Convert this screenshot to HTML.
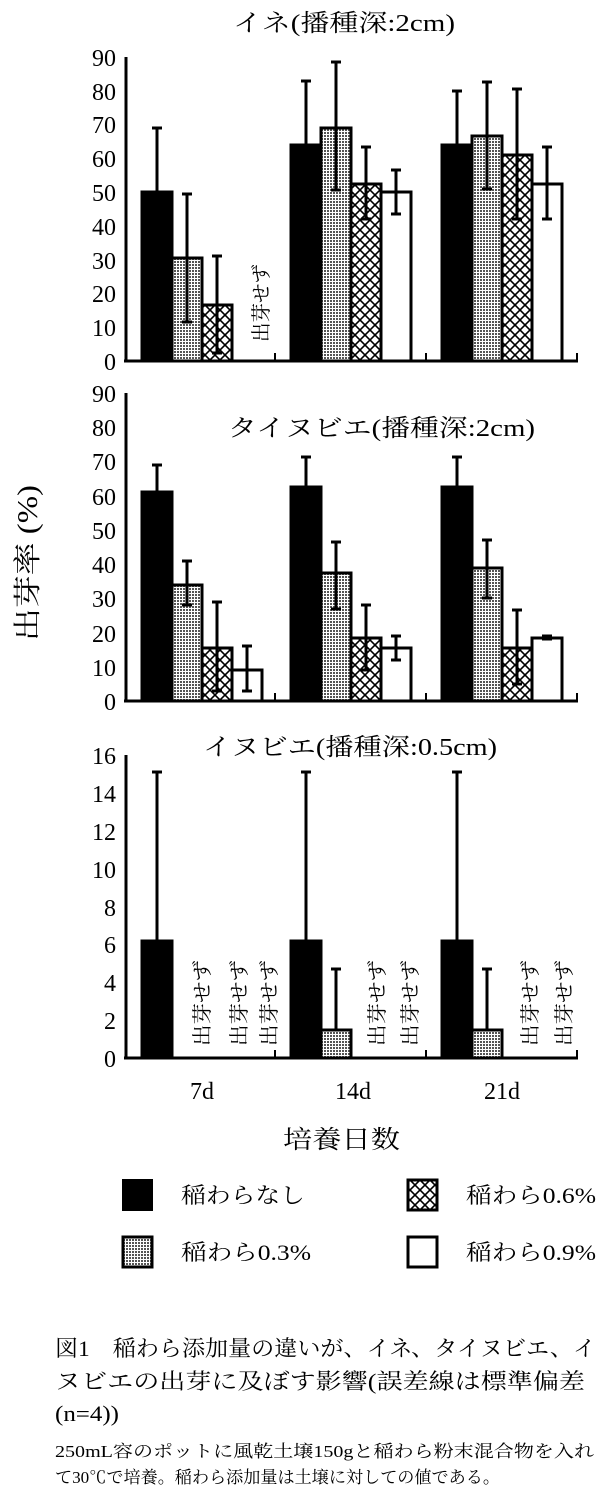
<!DOCTYPE html>
<html><head><meta charset="utf-8"><style>
html,body{margin:0;padding:0;background:#fff}
svg{display:block}
text{font-family:"Liberation Serif","Noto Serif CJK SC",serif;fill:#000}
.t{font-size:24px}
.j{font-family:"Liberation Serif","Noto Serif CJK SC","Noto Sans CJK JP",serif}
</style></head><body>
<svg width="609" height="1496" viewBox="0 0 609 1496" xmlns="http://www.w3.org/2000/svg">
<defs>
<pattern id="dot" width="3" height="3" patternUnits="userSpaceOnUse"><rect width="3" height="3" fill="#fff"/><rect width="2" height="2" fill="#555"/></pattern>
<pattern id="hx" width="10" height="10" patternUnits="userSpaceOnUse"><rect width="10" height="10" fill="#fff"/><path d="M0 0L10 10M10 0L0 10" stroke="#000" stroke-width="1.6"/></pattern>
</defs>
<g stroke="#000" stroke-width="3">
<line x1="126" y1="57" x2="126" y2="362"/><line x1="124" y1="361" x2="578" y2="361"/>
<line x1="275" y1="361" x2="275" y2="353" stroke-width="2"/><line x1="426" y1="361" x2="426" y2="353" stroke-width="2"/><line x1="577" y1="361" x2="577" y2="353" stroke-width="2"/>
<rect x="142" y="192" width="30" height="169" fill="#000"/>
<rect x="172" y="258" width="30" height="103" fill="url(#dot)"/>
<rect x="202" y="305" width="30" height="56" fill="url(#hx)"/>
<rect x="291" y="145" width="30" height="216" fill="#000"/>
<rect x="321" y="128" width="30" height="233" fill="url(#dot)"/>
<rect x="351" y="184" width="30" height="177" fill="url(#hx)"/>
<rect x="381" y="192" width="30" height="169" fill="#fff"/>
<rect x="442" y="145" width="30" height="216" fill="#000"/>
<rect x="472" y="136" width="30" height="225" fill="url(#dot)"/>
<rect x="502" y="155" width="30" height="206" fill="url(#hx)"/>
<rect x="532" y="184" width="30" height="177" fill="#fff"/>
<line x1="126" y1="393" x2="126" y2="702"/><line x1="124" y1="701" x2="578" y2="701"/>
<line x1="275" y1="701" x2="275" y2="693" stroke-width="2"/><line x1="426" y1="701" x2="426" y2="693" stroke-width="2"/><line x1="577" y1="701" x2="577" y2="693" stroke-width="2"/>
<rect x="142" y="492" width="30" height="209" fill="#000"/>
<rect x="172" y="585" width="30" height="116" fill="url(#dot)"/>
<rect x="202" y="648" width="30" height="53" fill="url(#hx)"/>
<rect x="232" y="670" width="30" height="31" fill="#fff"/>
<rect x="291" y="487" width="30" height="214" fill="#000"/>
<rect x="321" y="573" width="30" height="128" fill="url(#dot)"/>
<rect x="351" y="638" width="30" height="63" fill="url(#hx)"/>
<rect x="381" y="648" width="30" height="53" fill="#fff"/>
<rect x="442" y="487" width="30" height="214" fill="#000"/>
<rect x="472" y="568" width="30" height="133" fill="url(#dot)"/>
<rect x="502" y="648" width="30" height="53" fill="url(#hx)"/>
<rect x="532" y="638" width="30" height="63" fill="#fff"/>
<line x1="126" y1="755" x2="126" y2="1059"/><line x1="124" y1="1058" x2="578" y2="1058"/>
<line x1="275" y1="1058" x2="275" y2="1050" stroke-width="2"/><line x1="426" y1="1058" x2="426" y2="1050" stroke-width="2"/><line x1="577" y1="1058" x2="577" y2="1050" stroke-width="2"/>
<rect x="142" y="941" width="30" height="117" fill="#000"/>
<rect x="291" y="941" width="30" height="117" fill="#000"/>
<rect x="321" y="1030" width="30" height="28" fill="url(#dot)"/>
<rect x="442" y="941" width="30" height="117" fill="#000"/>
<rect x="472" y="1030" width="30" height="28" fill="url(#dot)"/>
</g>
<g stroke="#000" stroke-width="3" fill="none">
<path d="M157 192V128M152 128h10"/>
<path d="M187 322V194M182 322h10M182 194h10"/>
<path d="M217 353V256M212 353h10M212 256h10"/>
<path d="M306 145V81M301 81h10"/>
<path d="M336 190V62M331 190h10M331 62h10"/>
<path d="M366 219V147M361 219h10M361 147h10"/>
<path d="M396 214V170M391 214h10M391 170h10"/>
<path d="M457 145V91M452 91h10"/>
<path d="M487 189V82M482 189h10M482 82h10"/>
<path d="M517 219V89M512 219h10M512 89h10"/>
<path d="M547 219V147M542 219h10M542 147h10"/>
<path d="M157 492V465M152 465h10"/>
<path d="M187 605V561M182 605h10M182 561h10"/>
<path d="M217 691V602M212 691h10M212 602h10"/>
<path d="M247 691V646M242 691h10M242 646h10"/>
<path d="M306 487V457M301 457h10"/>
<path d="M336 609V542M331 609h10M331 542h10"/>
<path d="M366 670V605M361 670h10M361 605h10"/>
<path d="M396 660V636M391 660h10M391 636h10"/>
<path d="M457 487V457M452 457h10"/>
<path d="M487 598V540M482 598h10M482 540h10"/>
<path d="M517 684V610M512 684h10M512 610h10"/>
<path d="M547 639V636M542 639h10M542 636h10"/>
<path d="M157 941V772M152 772h10"/>
<path d="M306 941V772M301 772h10"/>
<path d="M457 941V772M452 772h10"/>
<path d="M336 1030V969M331 969h10"/>
<path d="M487 1030V969M482 969h10"/>
</g>
<g class="t" text-anchor="end">
<text x="116" y="66">90</text><text x="116" y="100">80</text><text x="116" y="133">70</text><text x="116" y="167">60</text><text x="116" y="201">50</text><text x="116" y="235">40</text><text x="116" y="269">30</text><text x="116" y="302">20</text><text x="116" y="336">10</text><text x="116" y="370">0</text>
<text x="116" y="402">90</text><text x="116" y="436">80</text><text x="116" y="470">70</text><text x="116" y="505">60</text><text x="116" y="539">50</text><text x="116" y="573">40</text><text x="116" y="607">30</text><text x="116" y="642">20</text><text x="116" y="676">10</text><text x="116" y="710">0</text>
<text x="116" y="764">16</text><text x="116" y="802">14</text><text x="116" y="840">12</text><text x="116" y="878">10</text><text x="116" y="916">8</text><text x="116" y="953">6</text><text x="116" y="991">4</text><text x="116" y="1029">2</text><text x="116" y="1067">0</text>
</g>
<g class="t" text-anchor="middle">
<text x="202" y="1099">7d</text><text x="353" y="1099">14d</text><text x="502" y="1099">21d</text>
</g>
<g class="j" font-size="24">
<text x="233" y="31" textLength="222" lengthAdjust="spacingAndGlyphs">イネ(播種深:2cm)</text>
<text x="228" y="436" textLength="307" lengthAdjust="spacingAndGlyphs">タイヌビエ(播種深:2cm)</text>
<text x="203" y="755" textLength="294" lengthAdjust="spacingAndGlyphs">イヌビエ(播種深:0.5cm)</text>
<text x="283" y="1148" font-size="25" textLength="117" lengthAdjust="spacingAndGlyphs">培養日数</text>
</g>
<text class="j" font-size="28" transform="translate(37,641) rotate(-90)" textLength="156" lengthAdjust="spacingAndGlyphs">出芽率 (%)</text>
<g class="j" font-size="20">
<text transform="translate(268,342) rotate(-90)" textLength="78" lengthAdjust="spacingAndGlyphs">出芽せず</text>
<text transform="translate(209,1046) rotate(-90)" textLength="86" lengthAdjust="spacingAndGlyphs">出芽せず</text>
<text transform="translate(246,1046) rotate(-90)" textLength="86" lengthAdjust="spacingAndGlyphs">出芽せず</text>
<text transform="translate(276,1046) rotate(-90)" textLength="86" lengthAdjust="spacingAndGlyphs">出芽せず</text>
<text transform="translate(384,1046) rotate(-90)" textLength="86" lengthAdjust="spacingAndGlyphs">出芽せず</text>
<text transform="translate(417,1046) rotate(-90)" textLength="86" lengthAdjust="spacingAndGlyphs">出芽せず</text>
<text transform="translate(537,1046) rotate(-90)" textLength="86" lengthAdjust="spacingAndGlyphs">出芽せず</text>
<text transform="translate(571,1046) rotate(-90)" textLength="86" lengthAdjust="spacingAndGlyphs">出芽せず</text>
</g>
<rect x="123" y="1180" width="29" height="30" fill="#000" stroke="#000" stroke-width="2"/>
<rect x="123" y="1237" width="29" height="30" fill="url(#dot)" stroke="#000" stroke-width="3"/>
<rect x="408" y="1180" width="29" height="30" fill="url(#hx)" stroke="#000" stroke-width="3"/>
<rect x="408" y="1237" width="29" height="30" fill="#fff" stroke="#000" stroke-width="3"/>
<g class="j" font-size="22">
<text x="181" y="1203" textLength="124" lengthAdjust="spacingAndGlyphs">稲わらなし</text>
<text x="181" y="1260" textLength="130" lengthAdjust="spacingAndGlyphs">稲わら0.3%</text>
<text x="466" y="1203" textLength="130" lengthAdjust="spacingAndGlyphs">稲わら0.6%</text>
<text x="466" y="1260" textLength="130" lengthAdjust="spacingAndGlyphs">稲わら0.9%</text>
</g>
<g class="j" font-size="22">
<text x="55" y="1356" textLength="541" lengthAdjust="spacingAndGlyphs">図1　稲わら添加量の違いが、イネ、タイヌビエ、イ</text>
<text x="55" y="1389" textLength="530" lengthAdjust="spacingAndGlyphs">ヌビエの出芽に及ぼす影響(誤差線は標準偏差</text>
<text x="55" y="1421" textLength="64" lengthAdjust="spacingAndGlyphs">(n=4))</text>
</g>
<g class="j" font-size="17">
<text x="55" y="1457" textLength="539" lengthAdjust="spacingAndGlyphs">250mL容のポットに風乾土壌150gと稲わら粉末混合物を入れ</text>
<text x="55" y="1483" textLength="445" lengthAdjust="spacingAndGlyphs">て30℃で培養。稲わら添加量は土壌に対しての値である。</text>
</g>
</svg>
</body></html>
